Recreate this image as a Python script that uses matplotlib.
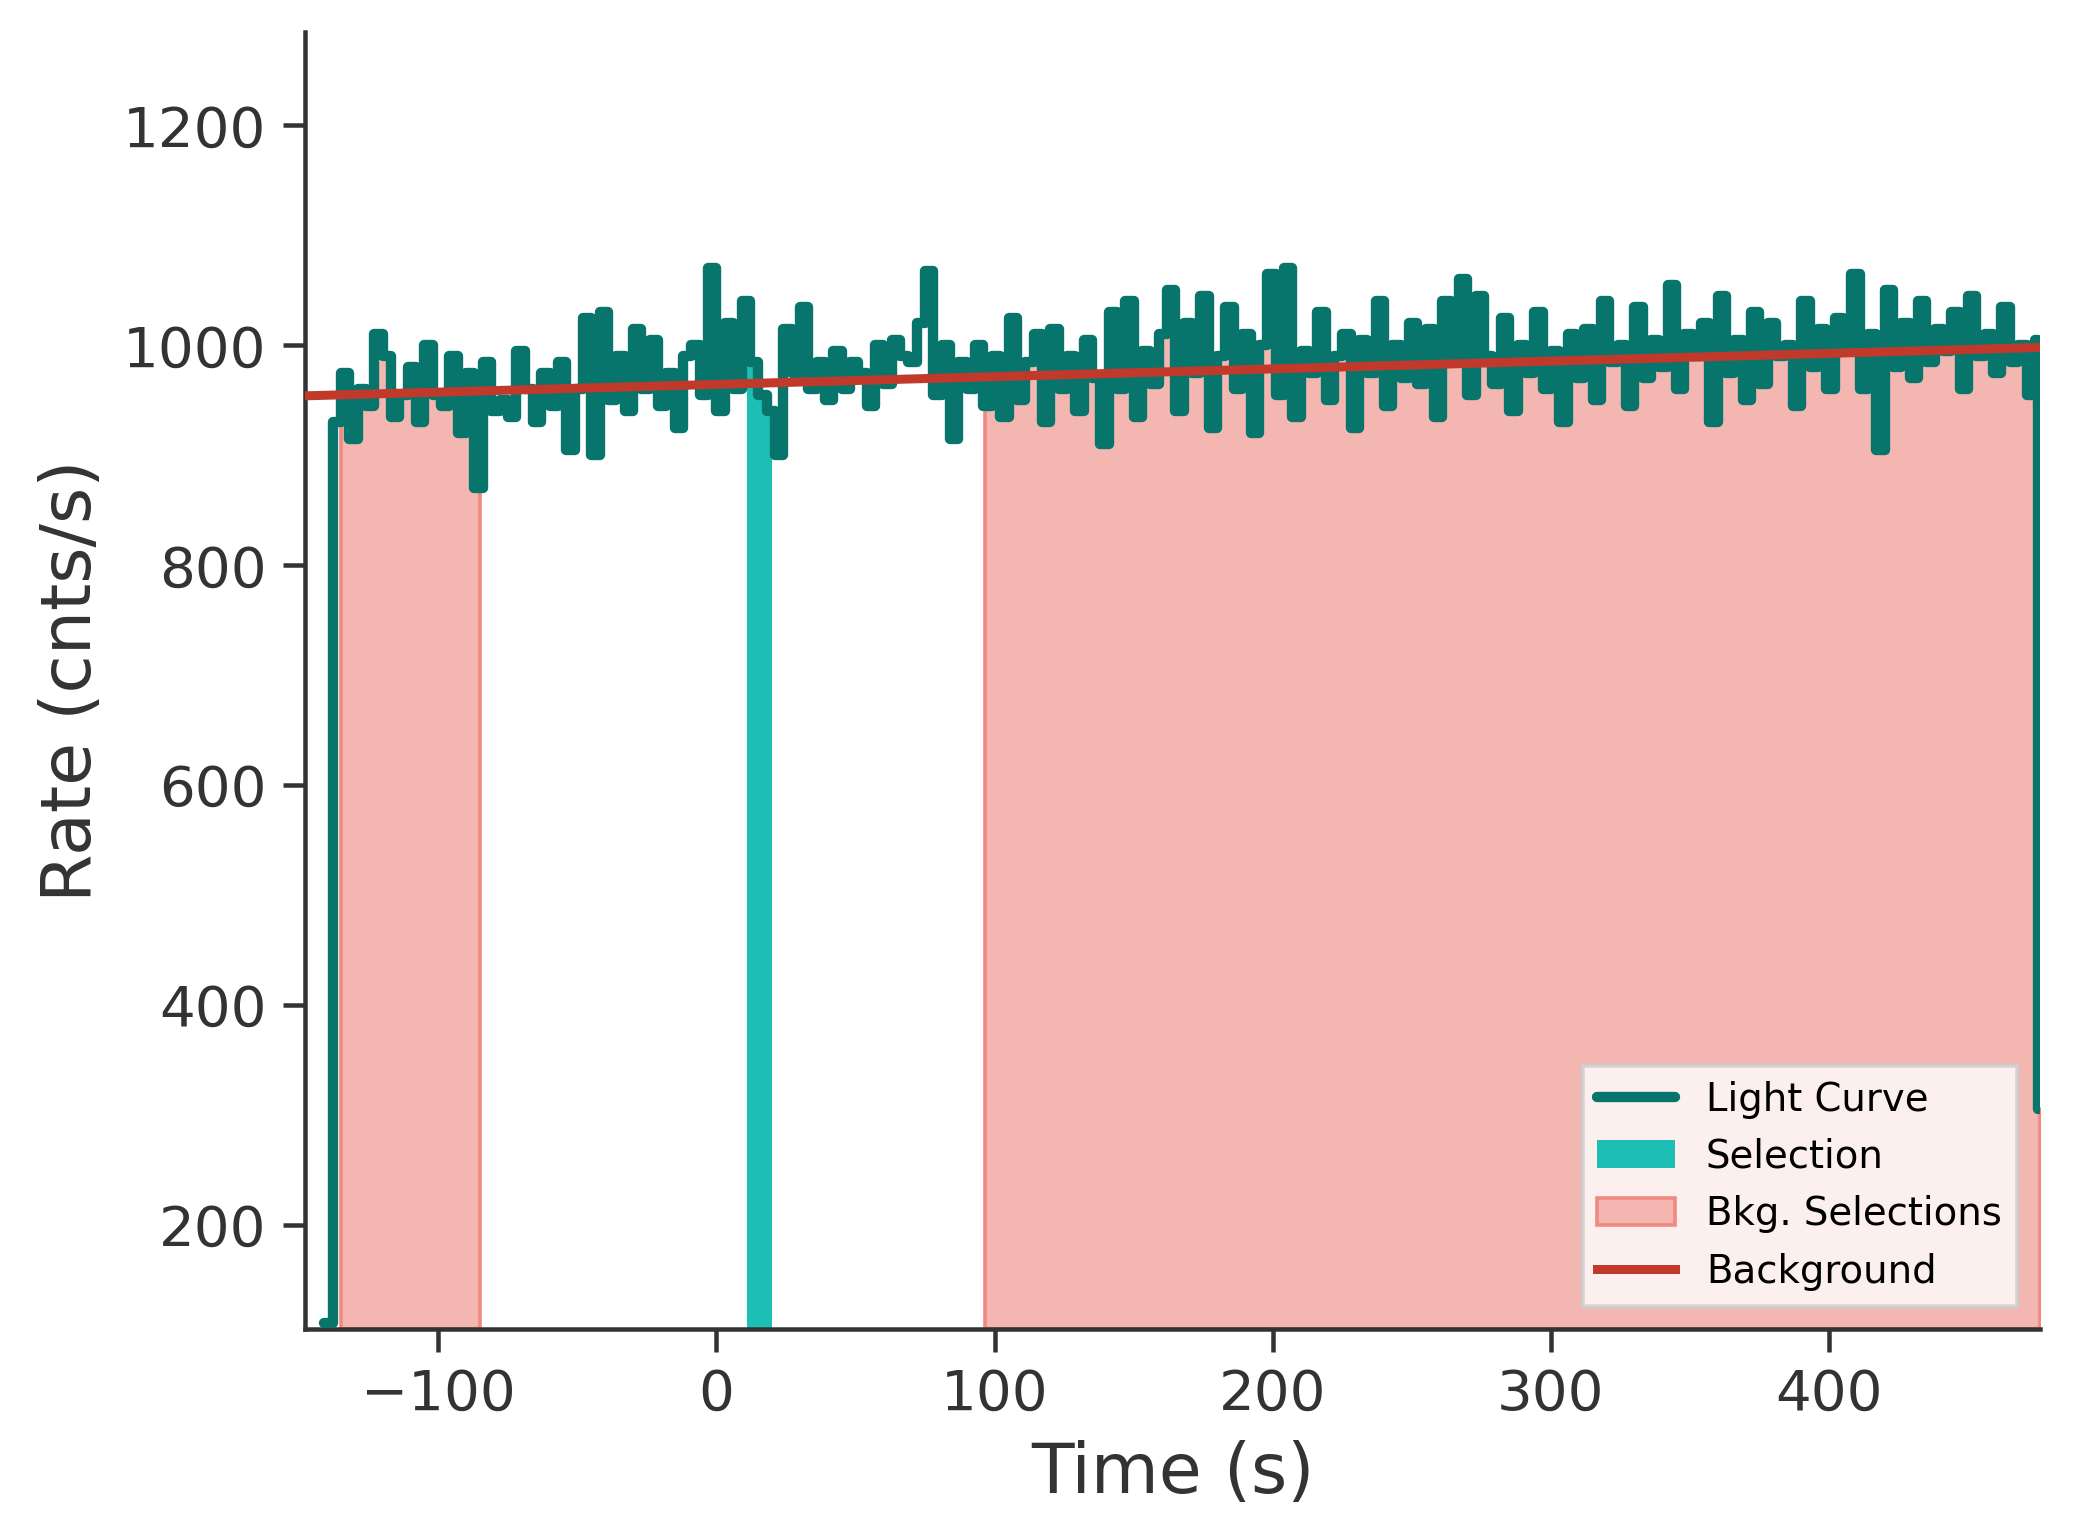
import numpy as np
import matplotlib
matplotlib.use("Agg")
import matplotlib.pyplot as plt

t_start = -141
bin_width = 3
rates = [110,
 930, 975, 915, 960, 945, 1010, 990, 935, 955, 980,
 930, 1000, 955, 945, 990, 920, 975, 870, 985, 940,
 950, 935, 995, 960, 930, 975, 945, 985, 905, 960,
 1025, 900, 1030, 950, 990, 940, 1015, 960, 1005, 945,
 975, 925, 990, 1000, 955, 1070, 940, 1020, 960, 1040,
 985, 955, 940, 900, 1015, 975, 1035, 960, 985, 950,
 995, 960, 985, 975, 945, 1000, 965, 1005, 990, 985,
 1020, 1068, 955, 1000, 915, 985, 960, 1000, 945, 990,
 935, 1025, 950, 985, 1010, 930, 1015, 960, 990, 940,
 1005, 970, 910, 1030, 960, 1040, 935, 995, 965, 1010,
 1050, 940, 1020, 975, 1045, 925, 990, 1035, 960, 1010,
 920, 1000, 1065, 955, 1070, 935, 995, 975, 1030, 950,
 990, 1010, 925, 1005, 975, 1040, 945, 1000, 970, 1020,
 965, 1015, 935, 1040, 985, 1060, 955, 1045, 990, 965,
 1025, 940, 1000, 975, 1030, 960, 995, 930, 1010, 970,
 1015, 950, 1040, 985, 1000, 945, 1035, 970, 1005, 980,
 1055, 960, 1010, 990, 1020, 930, 1045, 975, 1005, 950,
 1030, 965, 1020, 990, 1000, 945, 1040, 980, 1015, 960,
 1025, 995, 1065, 960, 1010, 905, 1050, 980, 1020, 970,
 1040, 985, 1015, 995, 1030, 960, 1045, 990, 1010, 975,
 1035, 985, 1000, 955, 1005, 305]

selection = (11, 20)
bkg_selections = [(-135, -85), (96.5, 476)]
bkg_line_x = [-148, 476]
bkg_line_y = [954, 998]

t = t_start + bin_width * np.arange(len(rates))
rates = np.array(rates, dtype=float)
t[-1] = 475.5

fig = plt.figure(figsize=(6.4, 4.754), dpi=324)
ax = fig.add_subplot(111)
fig.subplots_adjust(left=0.147, right=0.984, top=0.979, bottom=0.137)

dark = "#333333"
ymin = 105

def step_val(x):
    idx = np.searchsorted(t, x, side="right") - 1
    return rates[np.clip(idx, 0, len(rates) - 1)]

for i, (a, b) in enumerate(bkg_selections):
    xs = np.concatenate([[a], t[(t > a) & (t < b)], [b]])
    ax.fill_between(xs, ymin, step_val(xs), step="post", color="#f4b6b0",
                    edgecolor="#f08a80", linewidth=0.8,
                    label="Bkg. Selections" if i == 0 else None, zorder=1)
xs = np.concatenate([[selection[0]], t[(t > selection[0]) & (t < selection[1])], [selection[1]]])
ax.fill_between(xs, ymin, step_val(xs), step="post", color="#1dbfb4",
                linewidth=0, label="Selection", zorder=2)

ax.step(t, rates, where="post", color="#07756c", lw=2.3, label="Light Curve", zorder=3,
        solid_joinstyle="round", solid_capstyle="round")
ax.plot(bkg_line_x, bkg_line_y, color="#c0392b", lw=2.0, label="Background", zorder=4)

ax.set_xlim(-148, 476)
ax.set_ylim(ymin, 1285)
ax.set_yticks([200, 400, 600, 800, 1000, 1200])
ax.set_xticks([-100, 0, 100, 200, 300, 400])
ax.set_xlabel("Time (s)", fontsize=15.5, color=dark)
ax.set_ylabel("Rate (cnts/s)", fontsize=15.5, color=dark)
ax.tick_params(labelsize=12.5, colors=dark, length=5, width=1)
for s in ["top", "right"]:
    ax.spines[s].set_visible(False)
for s in ["left", "bottom"]:
    ax.spines[s].set_color(dark)
    ax.spines[s].set_linewidth(1)

h, l = ax.get_legend_handles_labels()
order = [l.index(n) for n in ["Light Curve", "Selection", "Bkg. Selections", "Background"]]
leg = ax.legend([h[i] for i in order], [l[i] for i in order], loc="lower right",
                fontsize=8.6, fancybox=False, framealpha=0.8, borderaxespad=0.6)
fig.savefig("out.png", dpi=324)
